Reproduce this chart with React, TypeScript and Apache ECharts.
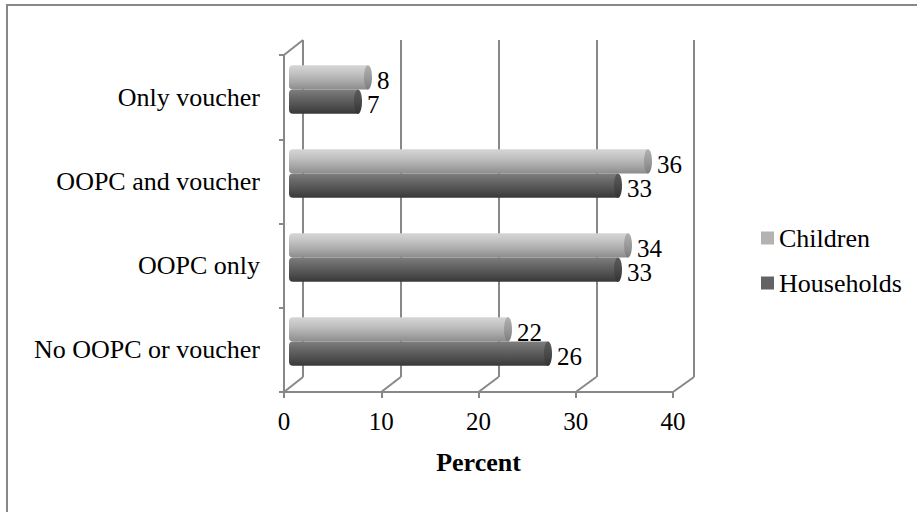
import React, { useEffect, useRef } from "react";
import * as echarts from "echarts";

// Categories listed bottom-to-top (category y axis starts at the bottom)
const categories = ["No OOPC or voucher", "OOPC only", "OOPC and voucher", "Only voucher"];
const children = [22, 34, 36, 8];
const households = [26, 33, 33, 7];
const xTicks = [0, 10, 20, 30, 40];
const seriesNames = ["Children", "Households"];

const FONT = "Liberation Serif";
const LINE = "#888888";
const SQUARE_ICON = "path://M0,0H10V10H0Z";

// 3D frame layout: front floor edge / left wall and back wall, offset by depth
const FRONT = { left: 284, top: 55, width: 389, height: 337 };
const DEPTH = { dx: 19, dy: -15 };
const BACK = { left: FRONT.left + DEPTH.dx, top: FRONT.top + DEPTH.dy, width: 391, height: 337 };
const BARS = { left: 288, top: 47.5, width: 400, height: 336 };

const shades = [
  {
    body: ["#d6d6d6", "#c3c3c3", "#a9a9a9", "#8c8c8c"],
    cap: ["#b0b0b0", "#9a9a9a", "#7c7c7c"],
    legend: "#b3b3b3",
  },
  {
    body: ["#7e7e7e", "#666666", "#505050", "#383838"],
    cap: ["#5a5a5a", "#4a4a4a", "#333333"],
    legend: "#636363",
  },
];

function grad(stops: string[]) {
  return new echarts.graphic.LinearGradient(
    0,
    0,
    0,
    1,
    stops.map((c, i) => ({ offset: i / (stops.length - 1), color: c }))
  );
}

function cylinder(idx: number) {
  return (params: any, api: any) => {
    const val = api.value(0);
    const cat = api.value(1);
    const start = api.coord([0, cat]);
    const end = api.coord([val, cat]);
    const band = api.size([0, 1])[1];
    const h = band * 0.29;
    const cy = start[1] + (idx === 0 ? -h / 2 : h / 2);
    const rx = 4;
    return {
      type: "group",
      children: [
        {
          type: "rect",
          shape: { x: start[0] + 1, y: cy - h / 2, width: end[0] - start[0] - 1, height: h, r: [4, 0, 0, 4] },
          style: { fill: grad(shades[idx].body) },
        },
        {
          type: "ellipse",
          shape: { cx: end[0], cy, rx, ry: h / 2 },
          style: { fill: grad(shades[idx].cap) },
        },
        {
          type: "text",
          style: {
            text: String(val),
            x: end[0] + rx + 5,
            y: cy + 3,
            align: "left",
            verticalAlign: "middle",
            fontFamily: FONT,
            fontSize: 25,
            fill: "#000",
          },
        },
      ],
    };
  };
}

export default function App() {
  const ref = useRef<HTMLDivElement>(null);

  useEffect(() => {
    if (!ref.current) return;
    const chart = echarts.init(ref.current, undefined, { renderer: "svg" });

    const hiddenAxis = { show: false };
    const option: any = {
      animation: false,
      backgroundColor: "#ffffff",
      textStyle: { fontFamily: FONT },
      legend: {
        orient: "vertical",
        left: 756,
        top: 219,
        itemWidth: 13,
        itemHeight: 13,
        itemGap: 17,
        icon: SQUARE_ICON,
        data: seriesNames.map((name, i) => ({
          name,
          icon: SQUARE_ICON,
          itemStyle: { color: shades[i].legend, borderWidth: 0 },
        })),
        textStyle: { fontFamily: FONT, fontSize: 26, color: "#000", lineHeight: 28 },
      },
      grid: [
        { ...BACK, containLabel: false },
        { ...FRONT, containLabel: false },
        { ...BARS, containLabel: false },
      ],
      xAxis: [
        {
          gridIndex: 0,
          type: "value",
          min: 0,
          max: 40,
          interval: 10,
          axisLine: { show: false },
          axisTick: { show: false },
          axisLabel: { show: false },
          splitLine: { show: true, lineStyle: { color: LINE, width: 2 } },
        },
        {
          gridIndex: 1,
          type: "value",
          min: 0,
          max: 40,
          interval: 10,
          axisLine: { show: true, lineStyle: { color: LINE, width: 2 } },
          axisTick: { show: true, length: 6, lineStyle: { color: LINE, width: 2 } },
          axisLabel: {
            show: true,
            margin: 17,
            fontFamily: FONT,
            fontSize: 25,
            color: "#000",
          },
          splitLine: { show: false },
          name: "Percent",
          nameLocation: "middle",
          nameGap: 57,
          nameTextStyle: { fontFamily: FONT, fontSize: 26, fontWeight: "bold", color: "#000" },
        },
        { gridIndex: 2, type: "value", min: 0, max: 40, ...hiddenAxis },
      ],
      yAxis: [
        { gridIndex: 0, type: "value", ...hiddenAxis },
        {
          gridIndex: 1,
          type: "category",
          data: categories,
          axisLine: { show: true, lineStyle: { color: LINE, width: 2 } },
          axisTick: { show: true, length: 5, lineStyle: { color: LINE, width: 2 } },
          axisLabel: { margin: 24, fontFamily: FONT, fontSize: 26, color: "#000" },
          splitLine: { show: false },
        },
        { gridIndex: 2, type: "category", data: categories, ...hiddenAxis },
      ],
      series: [
        {
          name: seriesNames[1],
          type: "custom",
          xAxisIndex: 2,
          yAxisIndex: 2,
          z: 3,
          itemStyle: { color: shades[1].legend },
          encode: { x: 0, y: 1 },
          renderItem: cylinder(1),
          data: households.map((v, i) => [v, i]),
        },
        {
          name: seriesNames[0],
          type: "custom",
          xAxisIndex: 2,
          yAxisIndex: 2,
          z: 4,
          itemStyle: { color: shades[0].legend },
          encode: { x: 0, y: 1 },
          renderItem: cylinder(0),
          data: children.map((v, i) => [v, i]),
        },
      ],
    };
    chart.setOption(option);

    // Depth edges joining the front floor/wall to the back wall
    const frontY = FRONT.top + FRONT.height;
    const backY = BACK.top + BACK.height;
    const edges: any[] = xTicks.map((t) => {
      const fx = chart.convertToPixel({ xAxisIndex: 1 }, t) as number;
      const bx = chart.convertToPixel({ xAxisIndex: 0 }, t) as number;
      return {
        type: "line",
        shape: { x1: fx, y1: frontY, x2: bx, y2: backY },
        style: { stroke: LINE, lineWidth: 2 },
        z: 1,
      };
    });
    edges.push({
      type: "line",
      shape: { x1: FRONT.left, y1: FRONT.top, x2: BACK.left, y2: BACK.top },
      style: { stroke: LINE, lineWidth: 2 },
      z: 1,
    });
    edges.push({
      type: "rect",
      shape: { x: 7, y: 5, width: 1200, height: 800 },
      style: { stroke: LINE, lineWidth: 2, fill: "none" },
      z: 0,
    });
    chart.setOption({ graphic: edges });

    return () => chart.dispose();
  }, []);

  return (
    <div
      ref={ref}
      style={{ position: "absolute", left: 0, top: 0, width: 917, height: 512 }}
    />
  );
}
